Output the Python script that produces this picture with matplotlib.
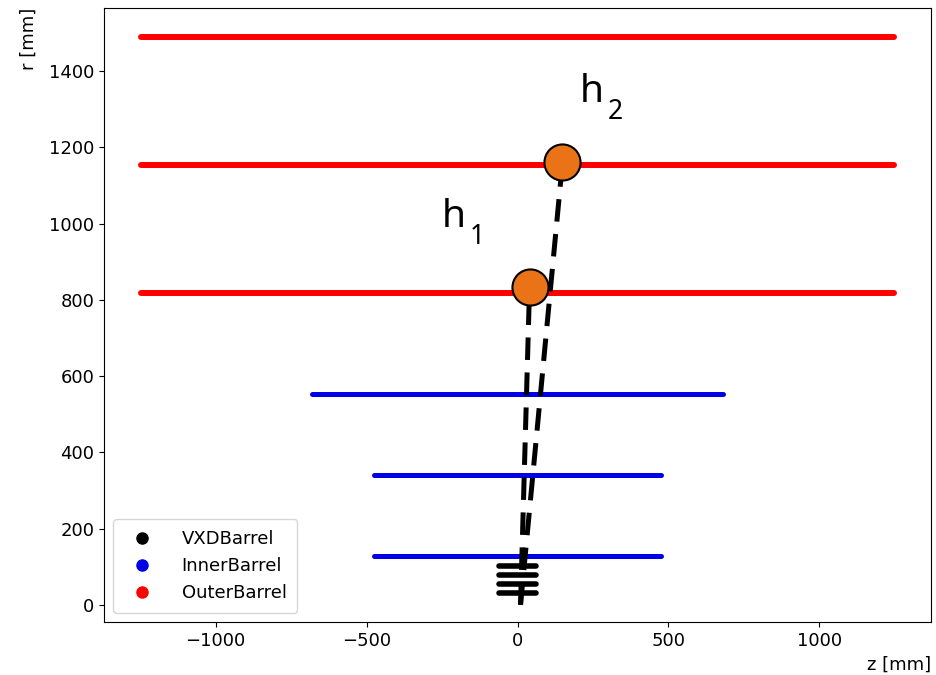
import matplotlib
matplotlib.use("Agg")
import matplotlib.pyplot as plt
from matplotlib.lines import Line2D

# Detector layers: (radius r, half-length in z)
vxd_r = [31, 55, 79, 102]
vxd_halfz = [62, 62, 62, 62]
inner_r = [128, 341, 553]
inner_halfz = [475, 475, 680]
outer_r = [818, 1154, 1489]
outer_halfz = [1248, 1248, 1248]

# Track origin and hits (z, r)
origin = (10, 0)
hits_z = [40, 149]
hits_r = [834, 1161]
hit_base = ["h", "h"]
hit_sub = ["1", "2"]
label_z = [-250, 207]
label_r = [990, 1318]

fig = plt.figure(figsize=(9.37, 6.75), dpi=100)
ax = fig.add_axes([0.111, 0.0785, 0.8826, 0.9095])

for r, hz in zip(vxd_r, vxd_halfz):
    ax.plot([-hz, hz], [r, r], color="black", lw=4.0, solid_capstyle="round", zorder=2)
for r, hz in zip(inner_r, inner_halfz):
    ax.plot([-hz, hz], [r, r], color="#0000e6", lw=3.6, solid_capstyle="round", zorder=2)
for r, hz in zip(outer_r, outer_halfz):
    ax.plot([-hz, hz], [r, r], color="#ff0000", lw=4.3, solid_capstyle="round", zorder=2)

# dashed track segments from origin to each hit
for z, r in zip(hits_z, hits_r):
    ax.plot([origin[0], z], [origin[1], r], color="black", lw=3.6,
            ls=(0, (4.5, 2.5)), zorder=3)

ax.plot(hits_z, hits_r, ls="none", marker="o", markersize=26,
        markerfacecolor="#ea7317", markeredgecolor="black", markeredgewidth=1.5, zorder=4)

for b, s, z, r in zip(hit_base, hit_sub, label_z, label_r):
    ax.text(z, r, b, fontsize=28, family="Noto Sans", ha="left", va="baseline")
    ax.annotate(s, (z, r), xytext=(20, -12), textcoords="offset points",
                fontsize=19, family="Noto Sans", ha="left", va="baseline")

ax.set_xlim(-1370, 1370)
ax.set_ylim(-45, 1565)
ax.set_xticks([-1000, -500, 0, 500, 1000])
ax.set_yticks([0, 200, 400, 600, 800, 1000, 1200, 1400])
ax.tick_params(labelsize=13)
ax.set_xticklabels(["\u22121000", "\u2212500", "0", "500", "1000"])
ax.set_xlabel("z [mm]", fontsize=13, loc="right")
ax.set_ylabel("r [mm]", fontsize=13, loc="top", labelpad=8)

handles = [
    Line2D([], [], ls="none", marker="o", color="black", markersize=8),
    Line2D([], [], ls="none", marker="o", color="#0000e6", markersize=8),
    Line2D([], [], ls="none", marker="o", color="#ff0000", markersize=8),
]
ax.legend(handles, ["VXDBarrel", "InnerBarrel", "OuterBarrel"], loc="lower left",
          fontsize=13, handletextpad=1.2, borderpad=0.6)

fig.savefig("out.png", dpi=100)
